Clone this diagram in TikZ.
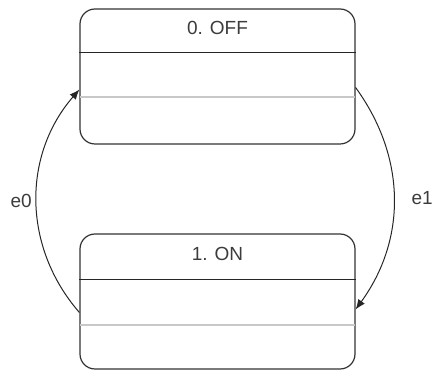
\documentclass[tikz,border=0pt]{standalone}
\usepackage{fontspec}
\setmainfont{Liberation Sans}
\usetikzlibrary{arrows.meta,positioning,calc}
\definecolor{stborder}{RGB}{51,51,51}
\definecolor{sttext}{RGB}{60,60,60}
\definecolor{stgray}{RGB}{200,200,200}
\tikzset{
  statebox/.style={rectangle, rounded corners=15pt, minimum width=275pt, minimum height=135pt, draw=stborder, line width=1.2pt, fill=white},
  stname/.style={font=\fontsize{19}{22}\selectfont, text=sttext},
  divider/.style={line width=1.1pt, draw=black!85},
  lightdiv/.style={line width=1.8pt, draw=stgray},
  trans/.style={line width=1pt, draw=black!85, -{Latex[length=10pt,width=8pt]}},
  evlabel/.style={font=\fontsize{19}{22}\selectfont, text=sttext}
}
\begin{document}
\begin{tikzpicture}[x=1pt, y=-1pt]
\useasboundingbox (0,0) rectangle (432,371);

% States
\node[statebox] (off) at (217.5,76.5) {};
\node[statebox] (on) at (217.5,301.5) {};

% Names
\node[stname, below=8pt of off.north, anchor=center, yshift=-12pt] (offname) {0. OFF};
\node[stname, below=8pt of on.north, anchor=center, yshift=-13pt] (onname) {1. ON};

% Compartments
\draw[divider] ($(off.north west)+(0,44)$) -- ($(off.north east)+(0,44)$);
\draw[lightdiv] ($(off.north west)+(0.6,89)$) -- ($(off.north east)+(-0.6,89)$);
\draw[divider] ($(on.north west)+(0,46)$) -- ($(on.north east)+(0,46)$);
\draw[lightdiv] ($(on.north west)+(0.6,92)$) -- ($(on.north east)+(-0.6,92)$);

% Transitions
\coordinate (offin) at ($(off.west)+(0,13)$);
\coordinate (offout) at ($(off.east)+(0,11)$);
\coordinate (onin) at ($(on.east)+(0,8)$);
\coordinate (onout) at ($(on.west)+(0,11)$);
\draw[trans] (onout) to[bend left=41] node[evlabel, left=1pt] (e0) {e0} (offin);
\draw[trans] (offout) to[bend left=36] node[evlabel, right=14pt] (e1) {e1} (onin);

\end{tikzpicture}
\end{document}
